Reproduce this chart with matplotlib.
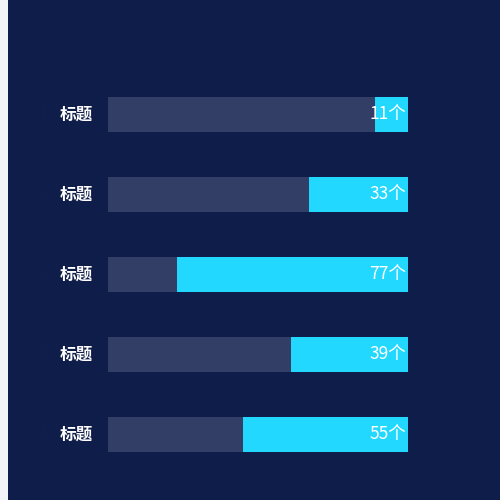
import matplotlib
matplotlib.use('Agg')
import matplotlib.pyplot as plt

plt.rcParams['font.family'] = ['Noto Sans CJK SC', 'DejaVu Sans']

#%% data
names = ['标题', '标题', '标题', '标题', '标题']
values = [11, 33, 77, 39, 55]
total = 100
ranks = ['1', '2', '3', '4', '5']

bg = '#0f1d4a'
track = '#323e66'
cyan = '#22d8ff'

fig = plt.figure(figsize=(5, 5), dpi=100)
fig.patch.set_facecolor('#f3f4f8')

# dark panel, light strip on the left
bgax = fig.add_axes([8/500, 0, 492/500, 1])
bgax.set_facecolor(bg)
bgax.set_xticks([])
bgax.set_yticks([])
for s in bgax.spines.values():
      s.set_visible(False)

ax = fig.add_axes([108/500, 1 - 474.5/500, 300/500, 400/500])
ax.set_facecolor('none')
ax.set_xlim(0, total)
ax.set_ylim(len(values) - 0.5, -0.5)
ax.axis('off')

h = 35/80
ypos = list(range(len(values)))
ax.barh(ypos, [total]*len(values), height=h, color=track, lw=0)
ax.barh(ypos, values, left=[total - v for v in values], height=h, color=cyan, lw=0)

for i, (n, v, r) in enumerate(zip(names, values, ranks)):
      ax.text(-5, i, n, ha='right', va='center', color='white',
              fontsize=12, fontweight='bold')
      ax.text(-21.3, i, r, ha='center', va='center', color='#121f4d',
              fontsize=10)
      ax.text(total - 0.7, i, str(v) + '个', ha='right', va='center',
              color='white', fontsize=12.5)

fig.savefig('out.png', dpi=100, facecolor=fig.get_facecolor())
